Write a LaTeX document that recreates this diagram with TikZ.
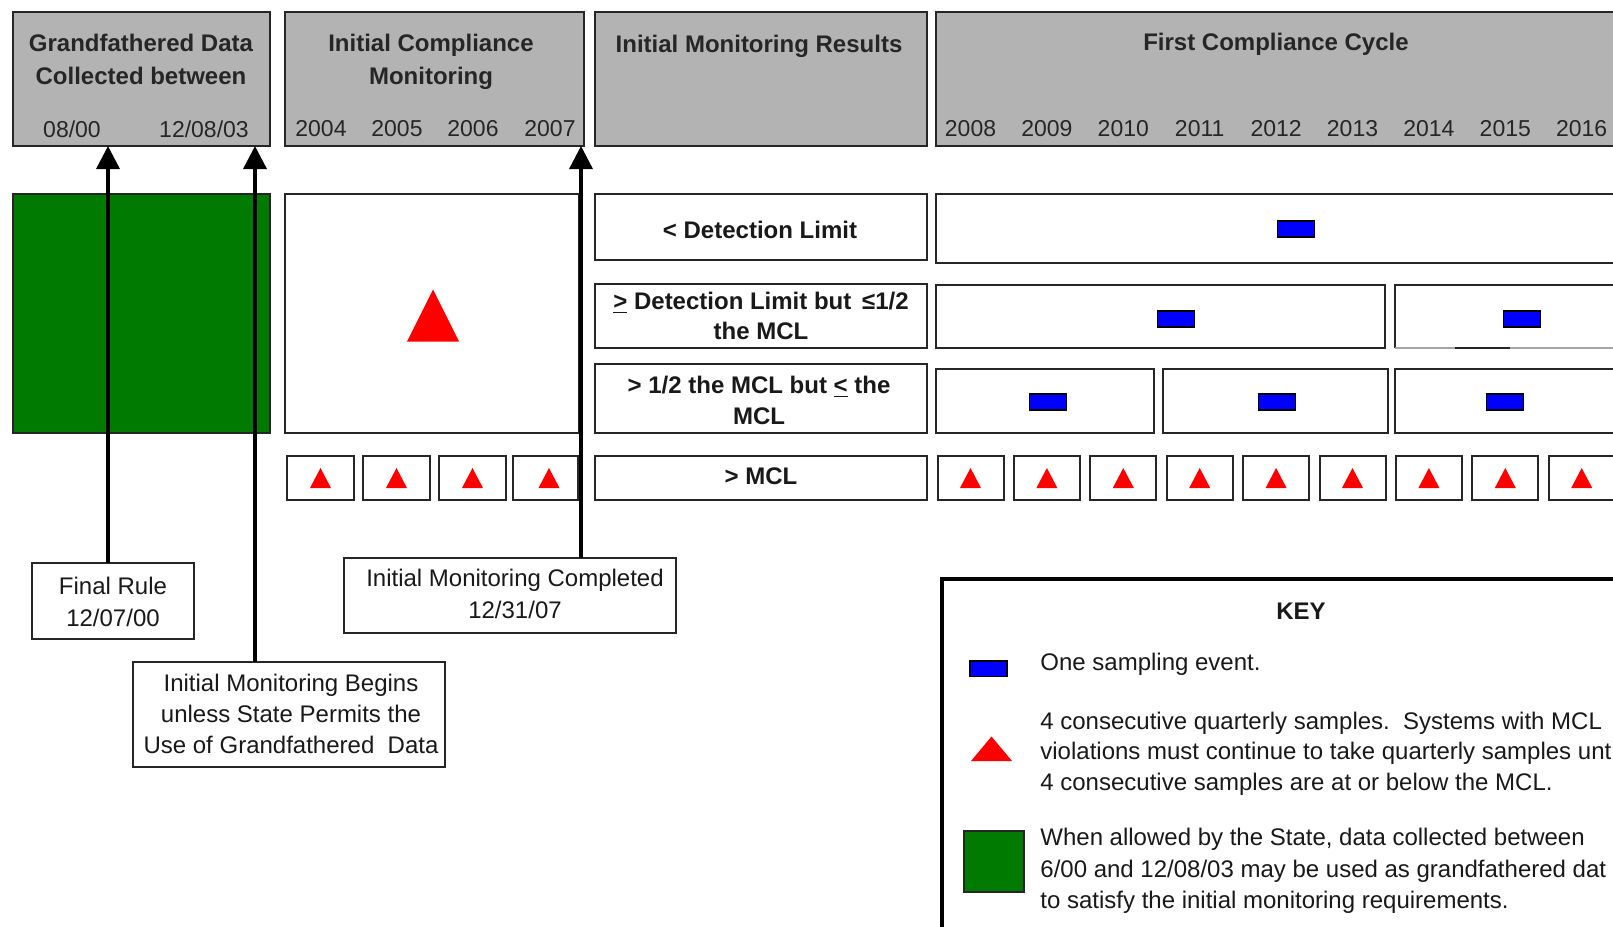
\documentclass[tikz,border=0pt]{standalone}
\usepackage{fontspec}
\setmainfont{Liberation Sans}
\usetikzlibrary{fit,arrows.meta}
\definecolor{hdrgray}{RGB}{179,179,179}
\definecolor{kgreen}{RGB}{0,122,0}
\definecolor{kblue}{RGB}{0,0,255}
\definecolor{kred}{RGB}{255,0,0}
% x, base y, width, height
\newcommand\redtri[4]{\fill[kred] ({#1-#3/2},#2) -- ({#1+#3/2},#2) -- (#1,{#2-#4}) -- cycle;}
\newcommand\bluebar[2]{\filldraw[fill=kblue,draw=black,line width=0.8pt] ({#1-18.5},{#2-7.75}) rectangle ({#1+18.5},{#2+7.75});}
\begin{document}
\begin{tikzpicture}[x=0.5pt,y=-0.5pt,
  box/.style={draw=black!85, line width=1pt, inner sep=0pt, outer sep=0pt, fill=white},
  hdr/.style={draw=black!85, line width=1.3pt, fill=hdrgray, inner sep=0pt, outer sep=0pt},
  gbox/.style={draw=black!85, line width=1pt, fill=kgreen, inner sep=0pt, outer sep=0pt},
  keybox/.style={draw=black, line width=2pt, fill=white, inner sep=0pt, outer sep=0pt},
  ttl/.style={font=\fontsize{12}{16.5}\selectfont\bfseries, align=center, inner sep=0pt, text=black!85},
  yr/.style={font=\fontsize{11.5}{14}\selectfont, inner sep=0pt, text=black!85},
  lbl/.style={font=\fontsize{12}{15.25}\selectfont\bfseries, align=center, inner sep=0pt, text=black!90},
  call/.style={font=\fontsize{12}{16}\selectfont, align=center, inner sep=0pt, text=black!90},
  ktxt/.style={font=\fontsize{12}{15.3}\selectfont, align=left, anchor=west, inner sep=0pt, text=black!90},
  arr/.style={draw=black, line width=1.7pt, -{Triangle[width=11.5pt,length=11.5pt]}}
]
\useasboundingbox (0,0) rectangle (1613,927);
\clip (0,0) rectangle (1613,927);
\fill[white] (0,0) rectangle (1613,927);

% ---------- header boxes ----------
\node[hdr, fit={(13,12)(270,146)}] (h1) {};
\node[hdr, fit={(285,12)(584,146)}] (h2) {};
\node[hdr, fit={(595,12)(927,146)}] (h3) {};
\node[hdr, fit={(936,12)(1650,146)}] (h4) {};

\node[ttl] (t1) at (141,59) {Grandfathered Data\\Collected between};
\node[yr] (d1) at (72,129) {08/00};
\node[yr] (d2) at (204,129) {12/08/03};
\node[ttl] (t2) at (431,62) {Initial Compliance\\Monitoring};
\node[yr] (y2004) at (321,129) {2004};
\node[yr] (y2005) at (397,129) {2005};
\node[yr] (y2006) at (473,129) {2006};
\node[yr] (y2007) at (550,129) {2007};
\node[ttl] (t3) at (759,46) {Initial Monitoring Results};
\node[ttl] (t4) at (1276,44) {First Compliance Cycle};
\foreach \yy [count=\i from 0] in {2008,2009,2010,2011,2012,2013,2014,2015,2016}
  \node[yr] (y\yy) at ({970.5+76.4*\i},129) {\yy};

% ---------- left blocks ----------
\node[gbox, fit={(13,194)(270,433)}] (green) {};
\node[box, fit={(285,194)(579,433)}] (icm) {};
\redtri{433}{341.5}{52}{52}

\foreach \a/\b/\c [count=\i] in {287/354/320.5, 363/430/396.5, 439/506/472.5, 513/578/549}{
  \node[box, fit={(\a,456)(\b,500)}] (q\i) {};
  \redtri{\c}{488}{21}{20}
}

% ---------- result labels ----------
\node[box, fit={(595,194)(927,260)}] (r1) {};
\node[box, fit={(595,284)(927,348)}] (r2) {};
\node[box, fit={(595,364)(927,433)}] (r3) {};
\node[box, fit={(595,456)(927,500)}] (r4) {};
\node[lbl] (l1) at (760,230) {< Detection Limit};
\node[lbl] (l2) at (761,316) {\underline{>} Detection Limit but \,≤1/2\\the MCL};
\node[lbl] (l3) at (759,400.5) {> 1/2 the MCL but \underline{<} the\\MCL};
\node[lbl] (l4) at (761,476) {> MCL};

% ---------- compliance cycle rows ----------
\node[box, fit={(936,194)(1650,263)}] (c1) {};
\bluebar{1296}{229}
\node[box, fit={(936,285)(1385,348)}] (c2a) {};
\node[box, draw=none, fit={(1395,285)(1650,348)}] (c2b) {};
\draw[black!85, line width=1pt] (c2b.south west) -- (c2b.north west) -- (c2b.north east);
\draw[black!35, line width=1pt] (c2b.south west) -- ++(60,0);
\draw[black!85, line width=1pt] (1455,348) -- (1510,348);
\draw[black!35, line width=1pt] (1510,348) -- (1650,348);
\bluebar{1176}{319}
\bluebar{1522}{319}
\node[box, fit={(936,369)(1154,433)}] (c3a) {};
\node[box, fit={(1163,369)(1388,433)}] (c3b) {};
\node[box, fit={(1395,369)(1650,433)}] (c3c) {};
\bluebar{1048}{402}
\bluebar{1277}{402}
\bluebar{1505}{402}
\foreach \i in {0,...,8}{
  \pgfmathsetmacro\cx{970.5+76.4*\i}
  \node[box, fit={({\cx-33},456)({\cx+33},500)}] (m\i) {};
  \redtri{\cx}{488}{21}{20}
}

% ---------- callouts ----------
\node[box, fit={(32,563)(194,639)}] (fr) {};
\node[call] (frt) at (113,601.5) {Final Rule\\12/07/00};
\node[box, fit={(133,662)(445,767)}] (imb) {};
\node[call, font=\fontsize{12}{15.5}\selectfont] (imbt) at (291,714) {Initial Monitoring Begins\\unless State Permits the\\Use of Grandfathered \ Data};
\node[box, fit={(344,558)(676,633)}] (imc) {};
\node[call] (imct) at (515,594) {Initial Monitoring Completed\\12/31/07};

\coordinate (a1) at (108,146);
\coordinate (a2) at (255,146);
\coordinate (a3) at (581,146);
\draw[arr] (a1 |- fr.north) -- (a1);
\draw[arr] (a2 |- imb.north) -- (a2);
\draw[arr] (a3 |- imc.north) -- (a3);

% ---------- key ----------
\node[keybox, fit={(942,579)(1660,980)}] (key) {};
\node[font=\fontsize{12}{14}\selectfont\bfseries, inner sep=0pt, text=black!90] (keyt) at (1301,611) {KEY};
\bluebar{988.5}{668.75}
\node[ktxt] (k1) at (1040,664.5) {One sampling event.};
\redtri{991.5}{761}{41}{24.5}
\node[ktxt] (k2) at (1040,753.5) {4 consecutive quarterly samples.\ \ Systems with MCL\\violations must continue to take quarterly samples unt\\4 consecutive samples are at or below the MCL.};
\filldraw[fill=kgreen, draw=black!85, line width=1pt] (964,831) rectangle (1023.5,892);
\node[ktxt, font=\fontsize{12}{15.8}\selectfont] (k3) at (1040,871) {When allowed by the State, data collected between\\6/00 and 12/08/03 may be used as grandfathered dat\\to satisfy the initial monitoring requirements.};
\end{tikzpicture}
\end{document}
